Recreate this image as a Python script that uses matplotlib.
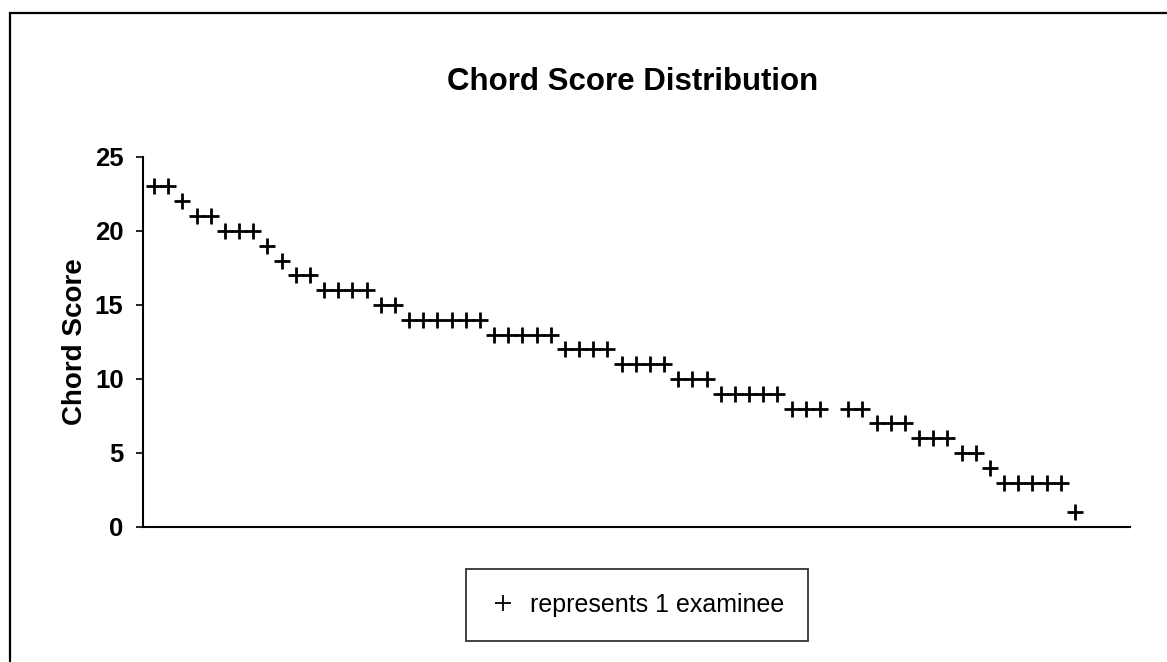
import numpy as np
import matplotlib.pyplot as plt
from matplotlib.lines import Line2D
from matplotlib.patches import Rectangle

plt.rcParams['font.family'] = ['Liberation Sans', 'DejaVu Sans']

# one entry per examinee, sorted high to low; nan = empty slot in the original chart
scores = [23, 23, 22, 21, 21, 20, 20, 20, 19, 18, 17, 17, 16, 16, 16, 16,
          15, 15, 14, 14, 14, 14, 14, 14, 13, 13, 13, 13, 13, 12, 12, 12, 12,
          11, 11, 11, 11, 10, 10, 10, 9, 9, 9, 9, 9, 8, 8, 8, np.nan,
          8, 8, 7, 7, 7, 6, 6, 6, 5, 5, 4, 3, 3, 3, 3, 3, 1]
y_ticks = [0, 5, 10, 15, 20, 25]

fig = plt.figure(figsize=(11.67, 6.62), dpi=100)
ax = fig.add_axes([0.1225, 0.204, 0.846, 0.559])

x = np.arange(len(scores))
ax.plot(x, scores, linestyle='none', marker='+', markersize=11,
        markeredgewidth=2.0, color='k')

ax.set_xlim(-0.78, 68.9)
ax.set_ylim(0, 25)
ax.set_yticks(y_ticks)
ax.set_xticks([])
ax.tick_params(axis='y', direction='out', length=5, width=1.2, pad=9,
               labelsize=18.5)
for lab in ax.get_yticklabels():
    lab.set_fontweight('bold')
ax.spines['top'].set_visible(False)
ax.spines['right'].set_visible(False)
ax.spines['left'].set_linewidth(1.5)
ax.spines['bottom'].set_linewidth(1.5)
ax.set_ylabel('Chord Score', fontsize=20, fontweight='bold')
ax.yaxis.set_label_coords(-0.056, 0.5)

fig.text(0.542, 0.876, 'Chord Score Distribution', ha='center', va='center',
         fontsize=22.5, fontweight='bold')

handle = Line2D([], [], linestyle='none', marker='+', markersize=11,
                markeredgewidth=1.3, color='k')
leg = fig.legend([handle], ['represents 1 examinee'], loc='center',
                 bbox_to_anchor=(0.546, 0.086), fontsize=18, frameon=True,
                 fancybox=False, edgecolor='k', borderpad=0.95,
                 handlelength=1.0, handletextpad=0.6, borderaxespad=0)
leg.get_frame().set_linewidth(1.3)

# outer chart border (left and top visible)
fig.patches.append(Rectangle((10 / 1167, -0.1), 1.2, 0.98 + 0.1,
                             transform=fig.transFigure, fill=False,
                             edgecolor='k', linewidth=1.6))

fig.savefig('out.png', dpi=100)
